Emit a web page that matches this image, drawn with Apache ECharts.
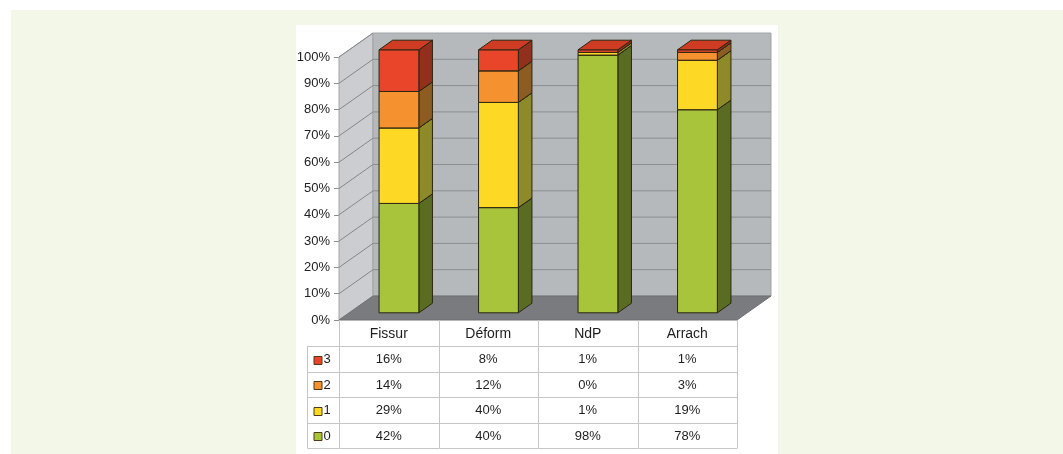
<!DOCTYPE html>
<html>
<head>
<meta charset="utf-8">
<script src="https://cdn.jsdelivr.net/npm/echarts@6/dist/echarts.min.js"></script>
<style>
  html, body { margin: 0; padding: 0; background: #ffffff; width: 1063px; height: 454px; overflow: hidden; }
  #frame { position: absolute; left: 11px; top: 10px; right: 0; bottom: 0; background: #f3f7e8; }
  #panel { position: absolute; left: 296px; top: 25px; width: 482px; bottom: 0; background: #ffffff; }
  #chart { position: absolute; left: 0; top: 0; width: 1063px; height: 454px; }
</style>
</head>
<body>
<div id="frame"></div>
<div id="panel"></div>
<div id="chart"></div>
<script>
// Damage classes per criterion (percent of samples)
const categories = ['Fissur', 'Déform', 'NdP', 'Arrach'];
const classNames = ['0', '1', '2', '3'];
const class0 = [42, 40, 98, 78];
const class1 = [29, 40, 1, 19];
const class2 = [14, 12, 0, 3];
const class3 = [16, 8, 1, 1];
const yTickStep = 10;

const classValues = [class0, class1, class2, class3];
// front, side, top shades for each class
const classColors = [
  { front: '#a8c43a', side: '#5a6c22', top: '#8ea631' },
  { front: '#fdd925', side: '#8e8a2a', top: '#e2c11f' },
  { front: '#f5912f', side: '#8c5c22', top: '#d97f28' },
  { front: '#e8452a', side: '#93301d', top: '#d03b24' }
];

// 100 % stacking: each column is scaled to its own total
const totals = categories.map((_, i) => classValues.reduce((s, arr) => s + arr[i], 0));
const stacked = classValues.map((arr, k) => arr.map((v, i) => {
  let base = 0;
  for (let j = 0; j < k; j++) base += classValues[j][i];
  return [i, base / totals[i] * 100, (base + v) / totals[i] * 100, v];
}));

// depth of the plot box and of each bar (pixels)
const BOX = [34, -24];
const BAR_FRONT = 0.3, BAR_BACK = 0.7;
const BAR_HALF = 0.2; // half bar width as share of a category band
const OUTLINE = '#2b2612';

function renderWalls(params, api) {
  const band = api.size([1, 0])[0];
  const x0 = api.coord([0, 0])[0] - band / 2;
  const x1 = api.coord([categories.length - 1, 0])[0] + band / 2;
  const yB = api.coord([0, 0])[1];
  const yT = api.coord([0, 100])[1];
  const dx = BOX[0], dy = BOX[1];
  const children = [
    { type: 'polygon', shape: { points: [[x0, yB], [x0, yT], [x0 + dx, yT + dy], [x0 + dx, yB + dy]] },
      style: { fill: '#cbcdd0', stroke: '#a2a4a7', lineWidth: 1 } },
    { type: 'rect', shape: { x: x0 + dx, y: yT + dy, width: x1 - x0, height: yB - yT },
      style: { fill: '#b5b9bc', stroke: '#a2a4a7', lineWidth: 1 } }
  ];
  for (let v = yTickStep; v <= 100; v += yTickStep) {
    const y = api.coord([0, v])[1];
    children.push({ type: 'line', shape: { x1: x0, y1: y, x2: x0 + dx, y2: y + dy },
      style: { stroke: '#85878a', lineWidth: 1 } });
    if (v < 100) {
      children.push({ type: 'line', shape: { x1: x0 + dx, y1: y + dy, x2: x1 + dx, y2: y + dy },
        style: { stroke: '#8c8e91', lineWidth: 1 } });
    }
  }
  children.push({ type: 'polygon', shape: { points: [[x0, yB], [x1, yB], [x1 + dx, yB + dy], [x0 + dx, yB + dy]] },
    style: { fill: '#797b7e', stroke: '#6f7174', lineWidth: 1 } });
  return { type: 'group', children };
}

function makeBarRenderer(k) {
  const col = classColors[k];
  return function (params, api) {
    const i = api.value(0), lo = api.value(1), hi = api.value(2), raw = api.value(3);
    if (!raw) return null;
    const band = api.size([1, 0])[0];
    const hw = band * BAR_HALF;
    const pLo = api.coord([i, lo]);
    const pHi = api.coord([i, hi]);
    const fx = BOX[0] * BAR_FRONT, fy = BOX[1] * BAR_FRONT;
    const bx = BOX[0] * (BAR_BACK - BAR_FRONT), by = BOX[1] * (BAR_BACK - BAR_FRONT);
    const xl = pLo[0] + fx - hw, xr = pLo[0] + fx + hw;
    const yb = pLo[1] + fy, yt = pHi[1] + fy;
    return {
      type: 'group',
      children: [
        { type: 'polygon', shape: { points: [[xr, yb], [xr, yt], [xr + bx, yt + by], [xr + bx, yb + by]] },
          style: { fill: col.side, stroke: OUTLINE, lineWidth: 1 } },
        { type: 'rect', shape: { x: xl, y: yt, width: xr - xl, height: yb - yt },
          style: { fill: col.front, stroke: OUTLINE, lineWidth: 1 } },
        { type: 'polygon', shape: { points: [[xl, yt], [xr, yt], [xr + bx, yt + by], [xl + bx, yt + by]] },
          style: { fill: col.top, stroke: OUTLINE, lineWidth: 1 } }
      ]
    };
  };
}

// data table under the plot: header row + one row per class (top class first)
const HEADER_H = 26, ROW_H = 25.5, LEGEND_W = 32;
const TABLE_LINE = '#c6c6c6';
const FONT_HEAD = '14px "Liberation Sans", Arial, sans-serif';
const FONT_CELL = '13px "Liberation Sans", Arial, sans-serif';

function cellText(text, x, y, font) {
  return { type: 'text', style: { text, x, y, font, fill: '#1e1e1e',
    align: 'center', verticalAlign: 'middle', textAlign: 'center', textVerticalAlign: 'middle' } };
}

function renderTable(params, api) {
  const i = api.value(0);
  const band = api.size([1, 0])[0];
  const cx = api.coord([i, 0])[0];
  const yB = api.coord([0, 0])[1];
  const left = Math.round(cx - band / 2) + 0.5;
  const right = Math.round(cx + band / 2) + 0.5;
  const yEnd = yB + HEADER_H + ROW_H * classNames.length;
  const children = [];
  const line = (x1, y1, x2, y2) => children.push({ type: 'line',
    shape: { x1, y1, x2, y2 }, style: { stroke: TABLE_LINE, lineWidth: 1 } });

  line(left, yB, left, yEnd);
  line(right, yB, right, yEnd);
  for (let r = 0; r <= classNames.length; r++) {
    const y = Math.round(yB + HEADER_H + r * ROW_H) + 0.5;
    line(left, y, right, y);
  }
  children.push(cellText(categories[i], cx, yB + HEADER_H / 2 + 1, FONT_HEAD));
  for (let r = 0; r < classNames.length; r++) {
    const k = classNames.length - 1 - r;
    const yc = yB + HEADER_H + (r + 0.5) * ROW_H + 1;
    children.push(cellText(classValues[k][i] + '%', cx, yc, FONT_CELL));
  }

  if (i === 0) {
    const lx = left - LEGEND_W;
    line(lx, yB + HEADER_H, lx, yEnd);
    for (let r = 0; r <= classNames.length; r++) {
      const y = Math.round(yB + HEADER_H + r * ROW_H) + 0.5;
      line(lx, y, left, y);
    }
    for (let r = 0; r < classNames.length; r++) {
      const k = classNames.length - 1 - r;
      const yc = yB + HEADER_H + (r + 0.5) * ROW_H + 1;
      children.push({ type: 'rect', shape: { x: lx + 6.5, y: Math.round(yc - 4) + 0.5, width: 8, height: 8 },
        style: { fill: classColors[k].front, stroke: '#4a3a1a', lineWidth: 1 } });
      children.push({ type: 'text', style: { text: classNames[k], x: lx + 16, y: yc, font: FONT_CELL,
        fill: '#1e1e1e', align: 'left', verticalAlign: 'middle', textAlign: 'left', textVerticalAlign: 'middle' } });
    }
  }
  return { type: 'group', children };
}

const chart = echarts.init(document.getElementById('chart'), null, { renderer: 'canvas' });

const series = [
  { type: 'custom', name: 'walls', renderItem: renderWalls, data: [[0, 0]], silent: true, clip: false, z: 1 }
];
stacked.forEach((d, k) => {
  series.push({ type: 'custom', name: classNames[k], renderItem: makeBarRenderer(k), data: d, clip: false, z: 2 + k });
});
series.push({ type: 'custom', name: 'table', renderItem: renderTable,
  data: categories.map((_, i) => [i, 0]), clip: false, silent: true, z: 10 });

chart.setOption({
  animation: false,
  backgroundColor: 'transparent',
  grid: { left: 339, right: 326, top: 57, bottom: 134 },
  xAxis: {
    type: 'category', data: categories, boundaryGap: true,
    axisLine: { show: false }, axisTick: { show: false }, axisLabel: { show: false }, splitLine: { show: false }
  },
  yAxis: {
    type: 'value', min: 0, max: 100, interval: yTickStep,
    axisLine: { show: true, lineStyle: { color: '#8a8c8f', width: 1 } },
    axisTick: { show: true, length: 5, lineStyle: { color: '#8a8c8f' } },
    axisLabel: { formatter: '{value}%', margin: 9, color: '#222222',
      fontSize: 13, fontFamily: '"Liberation Sans", Arial, sans-serif' },
    splitLine: { show: false }
  },
  series
});
</script>
</body>
</html>
